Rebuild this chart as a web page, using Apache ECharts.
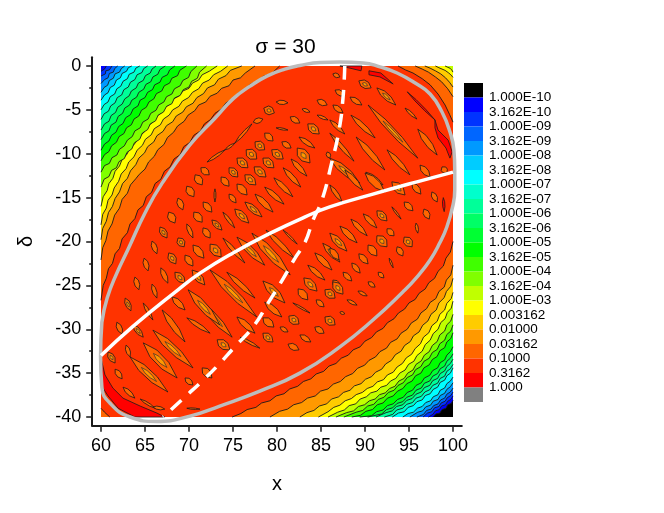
<!DOCTYPE html>
<html><head><meta charset="utf-8">
<style>html,body{margin:0;padding:0;background:#fff}#c{width:664px;height:513px}</style>
<script src="https://cdn.jsdelivr.net/npm/echarts@6/dist/echarts.min.js"></script>
</head><body><div id="c"></div>
<script>
// ---- colour scale
const barColors = ['#000000','#0000ff','#0033ff','#0066ff','#0099ff','#00ccff','#00ffff','#00ffcc','#00ff99','#00ff66','#00ff33','#00ff00','#40ff00','#80ff00','#c0ff00','#ffff00','#ffcc00','#ff9900','#ff6600','#ff3300','#ff0000','#808080'];
const barLabels = ['1.000E-10','3.162E-10','1.000E-09','3.162E-09','1.000E-08','3.162E-08','1.000E-07','3.162E-07','1.000E-06','3.162E-06','1.000E-05','3.162E-05','1.000E-04','3.162E-04','1.000E-03','0.003162','0.01000','0.03162','0.1000','0.3162','1.000'];
const xTicks = [60,65,70,75,80,85,90,95,100];
const xMinor = [62.5,67.5,72.5,77.5,82.5,87.5,92.5,97.5];
const yTicks = [0,-5,-10,-15,-20,-25,-30,-35,-40];
const yMinor = [-2.5,-7.5,-12.5,-17.5,-22.5,-27.5,-32.5,-37.5];

// ---- contour lines, read as (distance from the corner along x, distance along delta)
// upper-left corner, index = colour band enclosed
const tl1=[0,.6,.4,.35,.6,0];
const tl2=[0,1.15,.5,.9,.55,.55,.95,.45,1.25,0];
const tl3=[0,2,.4,1.55,.8,1.35,.95,.85,1.4,.7,1.55,.3,1.9,0];
const tl4=[0,3,.35,2.45,.75,2.2,.95,1.65,1.4,1.4,1.6,.9,2.1,.7,2.3,.3,2.7,0];
const tl5=[0,3.9,.4,3.3,.8,3.05,1.05,2.45,1.5,2.2,1.75,1.6,2.2,1.35,2.4,.85,2.9,.6,3.1,.2,3.5,0];
const tl6=[0,5,.35,4.4,.8,4.1,1.05,3.5,1.55,3.2,1.8,2.6,2.25,2.3,2.5,1.75,3,1.45,3.2,.95,3.75,.7,3.95,.25,4.4,0];
const tl7=[0,6.1,.35,5.45,.85,5.15,1.1,4.55,1.6,4.2,1.85,3.6,2.35,3.3,2.6,2.7,3.1,2.4,3.35,1.85,3.85,1.55,4.1,1,4.65,.75,4.85,.3,5.3,0];
const tl8=[0,7.3,.4,6.6,.9,6.3,1.15,5.65,1.65,5.3,1.9,4.7,2.4,4.35,2.7,3.75,3.2,3.4,3.45,2.85,4,2.5,4.25,1.95,4.8,1.65,5.05,1.1,5.6,.8,5.8,.35,6.25,0];
const tl9=[0,8.4,.4,7.7,.9,7.4,1.15,6.75,1.7,6.4,1.95,5.75,2.45,5.4,2.7,4.8,3.25,4.45,3.5,3.9,4.05,3.55,4.3,3,4.85,2.65,5.1,2.1,5.65,1.8,5.9,1.25,6.45,.95,6.7,.4,7.3,0];
const tl10=[0,9.6,.4,8.9,.9,8.55,1.2,7.9,1.7,7.55,2,6.9,2.5,6.55,2.8,5.9,3.35,5.55,3.65,4.9,4.2,4.55,4.45,3.9,5,3.6,5.3,3,5.85,2.7,6.1,2.15,6.7,1.85,6.95,1.3,7.55,1,7.8,.45,8.4,0];
const tl11=[0,10.8,.4,10.1,.9,9.75,1.2,9.1,1.75,8.7,2.05,8.05,2.6,7.7,2.9,7.05,3.45,6.7,3.75,6.05,4.3,5.7,4.6,5.05,5.15,4.7,5.45,4.1,6,3.75,6.3,3.15,6.9,2.85,7.2,2.25,7.8,1.95,8.05,1.4,8.7,1.1,8.95,.5,9.7,0];
const tl12=[0,12.1,.4,11.35,.95,11.1,1.25,10.45,1.8,10.15,2.1,9.5,2.65,9.1,3,8.45,3.55,8.05,3.85,7.4,4.45,7.05,4.75,6.4,5.35,6.05,5.65,5.4,6.25,5.05,6.55,4.45,7.15,4.1,7.45,3.5,8.05,3.2,8.35,2.6,9,2.25,9.3,1.65,9.95,1.3,10.2,.65,10.9,0];
const tl13=[0,13.8,.35,12.9,.9,12.6,1.2,11.9,1.75,11.6,2.05,10.9,2.65,10.55,2.95,9.85,3.5,9.45,3.8,8.75,4.4,8.35,4.7,7.65,5.3,7.25,5.6,6.6,6.2,6.25,6.5,5.6,7.1,5.25,7.45,4.6,8.05,4.3,8.35,3.65,9,3.35,9.35,2.7,10,2.4,10.3,1.75,10.95,1.4,11.2,.7,12,0];
const tl14=[0,16,.25,14.9,.7,14.2,.9,13.4,1.35,12.8,1.6,12,2.1,11.4,2.4,10.65,2.95,10.05,3.3,9.35,3.9,8.8,4.2,8.1,4.85,7.6,5.2,6.9,5.85,6.45,6.2,5.8,6.85,5.35,7.2,4.75,7.85,4.35,8.25,3.75,8.9,3.4,9.3,2.85,10,2.55,10.4,1.95,11.1,1.6,11.5,1,12.3,.6,13.2,0];
const tl15=[0,18.1,.2,16.9,.6,16.2,.8,15.3,1.25,14.7,1.5,13.9,2,13.15,2.3,12.3,2.85,11.7,3.15,10.95,3.75,10.35,4.1,9.6,4.7,9.05,5.05,8.35,5.7,7.85,6.05,7.15,6.75,6.7,7.1,6.05,7.75,5.6,8.15,5,8.85,4.6,9.25,4,9.95,3.6,10.4,3,11.1,2.6,11.55,1.95,12.3,1.6,12.8,1,13.6,.6,14.4,0];
const tl16=[0,19.8,.2,18.5,.6,17.7,.85,16.7,1.3,16,1.6,15.1,2.1,14.35,2.45,13.4,3,12.8,3.35,11.95,3.95,11.25,4.3,10.5,4.95,9.9,5.3,9.2,6,8.65,6.35,7.95,7.05,7.45,7.45,6.8,8.15,6.35,8.55,5.7,9.3,5.25,9.7,4.65,10.45,4.25,10.9,3.6,11.65,3.15,12.1,2.5,12.9,2.15,13.35,1.5,14.2,1.1,14.7,.5,16,0];
const tl17=[0,22.1,.2,20.7,.55,19.9,.8,18.8,1.25,18,1.55,17,2.1,16.2,2.4,15.2,3,14.5,3.35,13.55,3.95,12.85,4.35,12.35,5,11.75,5.4,10.95,6.05,10.3,6.45,9.55,7.15,8.95,7.55,8.15,8.25,7.55,8.7,6.85,9.45,6.3,9.9,5.6,10.65,5.1,11.1,4.45,11.9,4.1,12.4,3.45,13.2,3.1,13.7,2.55,14.55,2.25,15,1.6,15.85,1.35,16.4,.8,17.5,0];
const tl18=[0,26.7,.25,25,.6,24.2,.85,23.1,1.3,22.5,1.6,21.4,2.1,20.8,2.4,19.7,3,19,3.3,18,3.85,17.4,4.2,16.4,4.8,15.9,5.15,14.9,5.75,14.4,6.15,13.4,6.8,12.9,7.2,12,7.85,11.5,8.3,10.6,9,10.1,9.4,9.2,10.1,8.7,10.55,7.9,11.3,7.4,11.75,6.6,12.45,6.1,12.95,5.4,13.7,4.9,14.2,4.2,15,3.75,15.55,3.1,16.4,2.7,17,2.05,17.85,1.7,18.5,1.15,19.4,.85,20.3,0];
// lower-right corner
const br0=[0,1.9,.2,1.55,.6,1.4,.8,1,1.25,.85,1.5,.45,1.95,.35,2.3,0];
const br1=[0,2.4,.25,2,.6,1.8,.85,1.4,1.3,1.25,1.55,.85,2,.7,2.3,.3,2.8,0];
const br2=[0,2.85,.25,2.45,.65,2.2,.9,1.8,1.35,1.6,1.6,1.2,2.1,1.05,2.4,.6,2.9,.45,3.4,0];
const br3=[0,3.3,.3,2.85,.7,2.6,.95,2.15,1.4,1.95,1.7,1.5,2.2,1.3,2.5,.9,3,.75,3.35,.3,4.1,0];
const br4=[0,3.9,.3,3.45,.7,3.15,.95,2.7,1.45,2.45,1.7,2,2.25,1.8,2.55,1.35,3.1,1.15,3.45,.7,4,.55,4.9,0];
const br5=[0,4.55,.3,4.1,.7,3.8,.95,3.3,1.45,3.05,1.7,2.55,2.25,2.3,2.55,1.85,3.1,1.65,3.5,1.2,4.05,1,4.5,.55,5.1,.4,5.7,0];
const br6=[0,5.6,.3,5,.7,4.7,.95,4.2,1.45,3.95,1.75,3.4,2.25,3.15,2.6,2.65,3.15,2.45,3.5,1.95,4.1,1.75,4.5,1.3,5.1,1.1,5.55,.6,6.2,.45,6.9,0];
const br7=[0,6,.3,5.5,.7,5.2,.95,4.65,1.45,4.4,1.75,3.85,2.3,3.6,2.65,3.1,3.2,2.85,3.6,2.35,4.2,2.15,4.6,1.65,5.25,1.45,5.7,1,6.4,.8,6.85,.3,7.8,0];
const br8=[0,6.6,.3,6.1,.7,5.75,.95,5.25,1.45,4.95,1.75,4.4,2.3,4.15,2.65,3.6,3.25,3.35,3.6,2.85,4.2,2.6,4.65,2.1,5.25,1.9,5.7,1.4,6.4,1.2,6.9,.7,7.6,.5,8.75,0];
const br9=[0,7.2,.3,6.7,.7,6.35,.95,5.8,1.45,5.5,1.75,4.95,2.3,4.65,2.65,4.1,3.25,3.85,3.6,3.3,4.2,3.05,4.6,2.5,5.25,2.25,5.7,1.75,6.35,1.55,6.85,1.05,7.55,.85,8.1,.35,9.7,0];
const br10=[0,8,.3,7.45,.7,7.05,.95,6.5,1.45,6.2,1.75,5.6,2.3,5.3,2.65,4.75,3.25,4.45,3.6,3.9,4.2,3.6,4.6,3.05,5.2,2.8,5.65,2.25,6.3,2,6.8,1.5,7.45,1.3,7.95,.8,8.7,.6,9.25,.15,10.6,0];
const br11=[0,9.6,.25,8.95,.7,8.55,.95,7.9,1.5,7.55,1.8,6.9,2.35,6.55,2.7,5.95,3.3,5.6,3.65,5,4.25,4.7,4.65,4.1,5.25,3.8,5.7,3.25,6.3,2.95,6.8,2.4,7.45,2.15,7.95,1.6,8.6,1.4,9.15,.85,9.9,.65,10.5,.2,11.5,0];
const br12=[0,10.5,.25,9.8,.7,9.4,.95,8.75,1.5,8.35,1.8,7.7,2.35,7.35,2.7,6.7,3.3,6.35,3.65,5.75,4.25,5.4,4.6,4.8,5.2,4.5,5.65,3.9,6.25,3.6,6.7,3.05,7.35,2.8,7.85,2.25,8.5,2,9,1.45,9.7,1.25,10.25,.75,11,.55,12.4,0];
const br13=[0,11.7,.25,10.95,.7,10.5,.95,9.8,1.5,9.35,1.8,8.6,2.35,8.15,2.7,7.45,3.25,7.05,3.6,6.4,4.2,6,4.55,5.35,5.15,5,5.55,4.4,6.15,4.1,6.6,3.5,7.2,3.25,7.7,2.75,8.35,2.55,8.85,2.05,9.5,1.85,10.05,1.4,10.75,1.2,11.3,.7,12.1,.5,13.3,0];
const br14=[0,13.2,.2,12.4,.65,11.9,.9,11.2,1.4,10.75,1.7,10,2.25,9.5,2.6,8.75,3.15,8.25,3.5,7.5,4.1,7,4.45,6.35,5.05,6,5.45,5.35,6.05,5,6.5,4.4,7.1,4.1,7.55,3.6,8.2,3.4,8.65,2.95,9.35,2.75,9.85,2.3,10.55,2.05,11.05,1.5,11.8,1.3,12.35,.8,13.1,.55,14.2,0];
const br15=[0,14.2,.2,13.5,.7,12.95,.95,12.2,1.5,11.7,1.8,10.9,2.4,10.4,2.75,9.6,3.35,9.1,3.7,8.35,4.3,7.8,4.7,7.15,5.3,6.75,5.75,6.1,6.35,5.7,6.8,5.1,7.45,4.8,7.9,4.25,8.6,4,9.1,3.5,9.75,3.25,10.3,2.8,11,2.55,11.55,2.1,12.25,1.85,12.85,1.35,13.55,1.1,14.2,.6,15.3,0];
const br16=[0,15.8,.25,14.9,.75,14.3,1,13.6,1.6,13,1.9,12.2,2.5,11.7,2.85,10.95,3.45,10.45,3.85,9.7,4.5,9.25,4.85,8.6,5.5,8.15,5.9,7.5,6.55,7.1,7,6.45,7.65,6.05,8.1,5.45,8.8,5.1,9.25,4.6,9.95,4.3,10.45,3.8,11.2,3.55,11.7,3.05,12.45,2.8,13,2.3,13.8,2.05,14.35,1.5,15.2,1.25,15.8,.75,16.6,.5,17.4,0];
const br17=[0,17.3,.25,16.2,.75,15.6,1,14.8,1.6,14.3,1.95,13.5,2.6,13.05,3,12.35,3.65,11.85,4.05,11.15,4.75,10.7,5.2,10,5.9,9.55,6.35,8.9,7.1,8.5,7.55,7.85,8.3,7.45,8.8,6.85,9.55,6.45,10.05,5.9,10.85,5.55,11.4,4.95,12.2,4.6,12.8,4.05,13.6,3.75,14.2,3.2,15.05,2.95,15.65,2.4,16.55,2.15,17.2,1.65,18.1,1.4,18.8,.9,19.7,.65,20.8,0];
const br18=[0,20,.3,18.8,.8,18.1,1.1,17.2,1.7,16.6,2.1,15.8,2.75,15.3,3.15,14.6,3.85,14.1,4.3,13.4,5,13,5.5,12.3,6.2,11.85,6.7,11.2,7.45,10.75,7.95,10.1,8.7,9.7,9.25,9.05,10,8.65,10.55,8,11.35,7.65,11.9,7.05,12.7,6.7,13.3,6.1,14.1,5.8,14.7,5.2,15.55,4.9,16.15,4.35,17,4.05,17.65,3.5,18.55,3.2,19.2,2.65,20.1,2.4,20.8,1.85,21.75,1.6,22.4,1.1,23.4,.85,24.1,.4,25.1,0];
// upper-right corner
const tr18=[6.25,0,5.4,.45,4.55,.8,3.5,1.45,2.6,2.15,1.7,3.2,.9,4.45,.4,5.5,0,6.4];
const tr17=[4.3,0,3.5,.35,2.8,.7,2,1.25,1.3,1.8,.6,2.6,0,3.5];
const tr16=[3.2,0,2.6,.25,2,.55,1.4,.9,.85,1.35,.4,1.85,0,2.4];
const tr15=[2,0,1.6,.2,1.25,.35,.9,.5,.55,.75,.25,1,0,1.3];
const tr14=[.9,0,.6,.15,.35,.25,.15,.45,0,.7];
// lower-left corner
const bl18=[0,1,.4,.55,1,0];

// ---- closed red patches and thin islands (x, delta)
const redLowerLeft=[60,-33.3,60.45,-35.2,61.35,-36.7,62.5,-37.85,64.45,-38.75,66.35,-39.55,67.25,-40,63.85,-40,61.95,-39,60.8,-37.6,60,-36.35];
const redRight=[97.95,-6.15,98.3,-7.3,99.45,-8.45,99.9,-9.8,99.65,-10.5,99.2,-9.35,98.3,-8.2,97.95,-7.05];
const redTop=[87.15,0,89.65,0,89.55,-.55,88.3,-.25];
const redTop2=[90.45,-.55,91.8,-.8,93.2,-2.05,91.7,-1.25,90.45,-1];
const redStreaks=[[94.8,-2.95,97.95,-6.15,.2],[98.9,-15,99,-16.6,.25]];

// ---- islands of the lower band inside the plateau: x1, d1, x2, d2, width, has inner level
const islands=[
[78.5,-4.8,79.7,-5.35,.9,1],[77.3,-6.4,78.4,-6.05,.55],[81.5,-5.8,82.6,-6.5,.6],[82.85,-4.9,83.75,-5.25,.35],[84.55,-5.6,85.8,-6.15,.3],[83.5,-6.6,84.8,-7.75,.9,1],[79.9,-4.1,81.25,-4.2,.45],[79.9,-7.05,81.25,-7.3,.2],[78.6,-7.65,79.55,-8.55,.7],[77.5,-8.65,78.6,-9.55,.9,1],[76.5,-9.55,77.7,-10.6,1,1],[75.45,-10.5,76.7,-11.6,.9,1],[74.55,-11.6,75.55,-12.65,.8,1],[73.65,-12.65,74.55,-13.7,.7],
[80.55,-8.65,81.6,-9.35,.6],[79.4,-9.55,80.7,-10.6,.9,1],[78.4,-10.5,79.65,-11.6,.9,1],[77.4,-11.5,78.75,-12.65,.9,1],[76.35,-12.4,77.6,-13.55,.9,1],[75.45,-13.45,76.6,-14.7,.8],[74.55,-14.6,75.35,-15.6,.55],[82.3,-9.35,83.75,-11.05,1.1,1],[81.6,-10.6,83.4,-12.55,.55],[80.7,-11.6,82.7,-13.8,.55],[79.65,-12.75,81.8,-14.9,.55],[78.6,-13.8,80.8,-15.75,.55],[77.5,-14.6,79.55,-16.65,.65],[76.35,-15.5,78.3,-17.2,.7,1],[75.2,-16.3,76.8,-17.9,.8,1],[73.85,-16.65,75.2,-18.45,.35],[71.6,-15.5,72.6,-16.65,.7],[72.6,-17.55,73.75,-18.7,.6,1],[72.95,-14,72.95,-15.5,.2],[71.35,-11.6,72.3,-12.4,.7],[72.05,-10.95,74.1,-9.55,.3],[74.1,-9.55,75.2,-8.8,.25],[75.2,-8.8,77.15,-6.6,.3],[82.5,-8.1,84.3,-9.35,.5],[84.55,-3.9,85.7,-4.45,.6],[85.7,-9.8,86,-10.5,.45],
[71.6,-18.45,72.4,-19.6,.7],[72.4,-20.3,73.65,-21.75,1,1],[73.85,-19.6,76.35,-22.45,.45],[75.45,-19.5,78.6,-22.7,.8,1],[77.15,-19.05,81.5,-23.8,1,1],[78.75,-18.7,81.95,-21.9,.55],[80.7,-18.7,82.3,-20.3,.2],[72.4,-23.25,77.7,-28.6,.9,1],[74.3,-23.5,77.5,-26.45,.55],[78.4,-24.5,80.9,-27,.9,1],[78.6,-26.9,80.55,-28.6,.65],[75.45,-28.6,77.5,-30.45,.65],[71.25,-26.9,74.9,-30.9,.8,1],[73.2,-31.2,74.65,-32.35,.9,1],[78.4,-28.7,79.65,-29.75,.8],[78.4,-30.45,79.55,-31.45,.8,1],[80.35,-29.75,81.25,-30.3,.45],[81.35,-28.5,82.5,-29.4,.9,1],[81.8,-27,83.75,-28.15,.2],[83.05,-24.15,84.55,-25.65,.9,1],[82.4,-25.4,83.5,-26.65,.8],[83.5,-22.7,85.45,-24.4,.55],[84.3,-21.3,86.25,-23.25,.65],[85.2,-20.2,87.15,-22.35,.65,1],[85.45,-25.5,86.6,-26.45,.9,1],[84.45,-26.65,85.35,-27.45,.55],[85.45,-28.6,86.6,-29.5,.9,1],[84.3,-29.75,85.35,-30.45,.65],[82.6,-30.65,83.85,-31.45,.55],[81.25,-31.7,82.5,-32.35,.65],[75.8,-30.9,78.05,-32.15,.3],[86.35,-24.4,87.15,-25.3,.65],
[62.75,-26.45,63.4,-27.9,.55,1],[64.8,-27,65.9,-28.95,.35],[66.95,-27.8,69.55,-31.45,.65],[68.05,-26.3,69.55,-27.8,.65],[69.9,-25.5,73.5,-29.5,.9,1],[69.75,-28.7,72.4,-30.45,.45],[65.9,-30.1,70.45,-34.4,.9,1],[64.8,-31.55,68.65,-35.55,1.1,1],[63.3,-33.15,67.6,-37.15,.9,1],[69.55,-35.55,70.45,-36.35,.55],[71.5,-34.4,72.6,-35.55,.8],[61.8,-29.2,62.4,-30.55,.55],[63.65,-29.5,64.8,-30.9,.55,1],[62.85,-31.8,63.3,-33.15,.45],[60.8,-32.6,61.6,-33.85,.65,1],[61.6,-34.55,62.4,-35.65,.55],[62.5,-36.6,63.85,-37.85,.45],[64.45,-37.95,66.15,-39,.25],[65.9,-38.85,67.25,-39.1,.35],[69.75,-39,71.25,-39.1,.15],
[70.7,-12.4,71.5,-13.55,.8],[69.75,-13.7,70.55,-14.9,.8],[68.75,-15.05,69.3,-16.4,.65],[67.7,-16.65,68.4,-17.9,.8],[66.7,-18.35,67.5,-19.6,.7,1],[65.8,-19.95,66.35,-21.4,.55],[64.9,-21.9,65.35,-23.35,.55],[63.85,-24.05,64.3,-25.5,.55],[65.8,-24.85,66.35,-26.45,.45],[66.8,-23,67.6,-24.75,.55],[67.7,-21.3,68.5,-22.55,.8,1],[68.75,-19.6,69.45,-20.6,.8,1],[69.75,-18,70.45,-19.6,.45],[70.55,-16.65,71.5,-17.8,.8],[69.55,-21.55,70.45,-22.8,.7],[68.4,-23.5,69.55,-24.75,.8,1],[70.45,-20.4,71.7,-21.9,.8],[70.35,-23.25,71.8,-24.95,.8,1],
[89.3,-1.7,90.7,-2.5,.8,1],[91.35,-2.5,93.5,-4.45,.65,1],[86.6,-2.75,87.7,-3.4,.55],[88.3,-3.55,89.65,-4.45,.55],[86.35,-4.45,87.5,-5.35,.55],[88.4,-5.6,91.15,-8.2,.55],[90.35,-4.45,96,-10.5,.65,1],[94.55,-4.8,95.9,-6.05,.3],[96,-7.2,98.2,-10.15,.65],[86,-6.15,87.7,-7.75,.45],[89,-8.1,92.25,-11.85,.65],[92.5,-9.55,95.1,-12.4,.55],[86,-7.65,88.75,-10.85,.45],[86,-10.5,89.4,-13.35,.8,1],[96.25,-11.3,97.4,-12.65,.65],[98.75,-11.5,99.3,-12.2,.65],[90.1,-12.1,92.05,-13.55,.45],[86.35,-.9,87.15,-1.25,.45],
[87.7,-11.85,89.75,-14.15,.55],[90,-12.2,92.25,-14.35,.8],[93.05,-13.2,94.55,-14.7,.9,1],[95.35,-13.35,96.35,-14.6,.65],[97.6,-14.35,98.2,-15.5,.55],[86,-13.55,87.4,-15.5,.45],[91.35,-16.5,92.5,-17.65,.8,1],[89.8,-16.85,91.35,-18.45,.55],[88.4,-17.45,90.25,-19.35,.55],[93.05,-16.05,94.1,-17.45,.2],[94.45,-15.5,95.45,-16.5,.65],[96.7,-16.3,97.3,-17.45,.65],[92.5,-18.55,93.3,-19.35,.65],[95.8,-17.9,96,-19.05,.3],[87.15,-18.25,89.1,-20.15,.65],[86,-19.05,87.95,-21.1,.8,1],[91.35,-19.35,92.5,-20.6,1,1],[94.45,-19.5,95.35,-20.6,.9,1],[90.35,-20.4,91.35,-21.65,.8],[93.65,-20.6,94.3,-21.65,.65],[86,-20.75,87.05,-22.1,.65],[89.3,-21.4,90.35,-22.55,.65],[92.75,-21.9,93.2,-23,.2],[88.5,-22.45,89.45,-23.6,.55],[91.5,-23.5,92.15,-24.15,.45],[87.5,-23.5,88.5,-24.5,.55],[90.35,-24.6,91.15,-25.2,.45],[86.35,-24.6,87.5,-26,.9,1],[89.2,-25.65,90.25,-26.2,.35],[87.95,-26.65,89.1,-27.25,.35],[87.15,-28.05,87.7,-28.25,.3]
];

// ---- overlay curves (x, delta)
const solidX=[60,63.6,68.75,71.25,75,79.55,83.2,86,90.9,95.9,100];
const solidD=[-33,-29.7,-25.5,-23.6,-21.3,-18.9,-17.2,-16.05,-14.6,-13.2,-12.1];
const dashX=[87.7,87.5,87.05,86.15,85.1,84.1,83.2,82.05,80.6,79,77.3,75.2,73.3,71.6,69.55,67.05];
const dashD=[0,-3.65,-7.3,-11.3,-15.3,-17.55,-20.05,-21.9,-24.4,-27,-29.7,-32,-34.1,-35.8,-37.7,-40];
const ringX=[60.1,60.7,61.8,63.05,65,66.95,70.1,72.95,75,76.95,78.85,80.9,82.6,84.9,87.15,89.8,91.7,93.65,95.7,97.4,98.75,99.65,100.1,100.2,100.2,100,99.3,98.5,97.4,95.9,94.3,90.9,87.15,82.6,78.05,73.5,70.1,66.35,63.3,61,60.1,59.95,60.1];
const ringD=[-29.2,-26.45,-23.6,-20.95,-16.75,-13.35,-9,-5.95,-3.75,-2.3,-1.15,-.35,.05,.4,.45,.35,-.1,-.8,-1.95,-3.2,-5.25,-7.5,-9.55,-11.85,-14.15,-15.85,-18.35,-20.15,-22.1,-24.05,-25.75,-28.95,-32,-35,-37.05,-38.75,-39.9,-40.5,-40,-38.4,-36.6,-33.15,-29.2];

// ---- build layers
const FONT='"Liberation Sans",Arial,sans-serif';
const ink='#1a1a1a';
function place(flat,cx,sx,cy,sy){const o=[];for(let i=0;i<flat.length;i+=2)o.push([cx+sx*flat[i],cy+sy*flat[i+1]]);return o;}
function pairs(flat){return place(flat,0,1,0,1);}
const layers=[];
[tl18,tl17,tl16,tl15,tl14,tl13,tl12,tl11,tl10,tl9,tl8,tl7,tl6,tl5,tl4,tl3,tl2,tl1].forEach((c,i)=>layers.push({band:18-i,line:place(c,60,1,0,-1),corner:[60,0]}));
[br18,br17,br16,br15,br14,br13,br12,br11,br10,br9,br8,br7,br6,br5,br4,br3,br2,br1,br0].forEach((c,i)=>layers.push({band:18-i,line:place(c,100,-1,-40,1),corner:[100,-40]}));
[tr18,tr17,tr16,tr15,tr14].forEach((c,i)=>layers.push({band:18-i,line:place(c,100,-1,0,-1),corner:[100,0]}));
layers.push({band:18,line:place(bl18,60,1,-40,1),corner:[60,-40]});

function toPx(api,list){return list.map(p=>api.coord(p));}
function renderLayer(params,api){
  const l=layers[params.dataIndex];
  const line=toPx(api,l.line);
  return {type:'group',children:[
    {type:'polygon',shape:{points:line.concat([api.coord(l.corner)])},style:{fill:barColors[l.band],stroke:null}},
    {type:'polyline',shape:{points:line},style:{fill:null,stroke:ink,lineWidth:.9}}
  ]};
}
function lens(d,scale){
  const cx=(d[0]+d[2])/2,cy=(d[1]+d[3])/2;
  let x1=cx+(d[0]-cx)*scale,y1=cy+(d[1]-cy)*scale,x2=cx+(d[2]-cx)*scale,y2=cy+(d[3]-cy)*scale;
  const dx=x2-x1,dy=y2-y1,L=Math.hypot(dx,dy)||1,w=d[4]*scale/2,nx=-dy/L*w,ny=dx/L*w;
  return [[x1,y1],[x1+dx*.3+nx,y1+dy*.3+ny],[x1+dx*.65+nx,y1+dy*.65+ny],[x2,y2],[x1+dx*.65-nx,y1+dy*.65-ny],[x1+dx*.3-nx,y1+dy*.3-ny]];
}
function renderIsland(params,api){
  const d=islands[params.dataIndex];
  const kids=[{type:'polygon',shape:{points:toPx(api,lens(d,1))},style:{fill:barColors[18],stroke:ink,lineWidth:.8}}];
  if(d[5])kids.push({type:'polygon',shape:{points:toPx(api,lens(d,.4))},style:{fill:barColors[17],stroke:'#333',lineWidth:.7}});
  return {type:'group',children:kids};
}
const patches=[redLowerLeft,redRight,redTop,redTop2].map(pairs);
function renderPatch(params,api){
  return {type:'polygon',shape:{points:toPx(api,patches[params.dataIndex])},style:{fill:barColors[20],stroke:ink,lineWidth:.8}};
}
function renderStreak(params,api){
  return {type:'polygon',shape:{points:toPx(api,lens(redStreaks[params.dataIndex],1))},style:{fill:barColors[20],stroke:ink,lineWidth:.8}};
}
function renderPlateau(params,api){
  const a=api.coord([60,0]),b=api.coord([100,-40]);
  return {type:'rect',shape:{x:a[0],y:a[1],width:b[0]-a[0],height:b[1]-a[1]},style:{fill:barColors[19]}};
}
function renderBar(params,api){
  const i=params.dataIndex,a=api.coord([0,i]),b=api.coord([1,i+1]);
  return {type:'rect',shape:{x:a[0],y:a[1],width:b[0]-a[0],height:b[1]-a[1]},style:{fill:barColors[i]}};
}
function cust(render,n,z){return {type:'custom',renderItem:render,data:Array.from({length:n},(_,i)=>[60,-20,i]),xAxisIndex:0,yAxisIndex:0,clip:false,silent:true,z:z,animation:false};}
function zip(a,b){return a.map((v,i)=>[v,b[i]]);}

const spine={show:true,onZero:false,lineStyle:{color:ink,width:2}};
const chart=echarts.init(document.getElementById('c'),null,{renderer:'canvas'});
chart.setOption({
  animation:false,
  backgroundColor:'#fff',
  title:{text:'σ = 30',left:280.5,top:32,textAlign:'center',textStyle:{fontFamily:FONT,fontSize:21,fontWeight:'normal',color:'#000'}},
  grid:[{left:92.2,top:57.2,width:369.6,height:368.6},{left:464,top:83,width:19,height:319}],
  xAxis:[
    {type:'value',gridIndex:0,min:59,max:101,position:'bottom',splitLine:{show:false},axisLine:spine,
     axisTick:{show:true,length:6,customValues:xTicks,lineStyle:{color:ink,width:1.5}},
     axisLabel:{show:true,customValues:xTicks,margin:11,fontFamily:FONT,fontSize:18,color:'#000',hideOverlap:false},
     name:'x',nameLocation:'middle',nameGap:49,nameTextStyle:{fontFamily:FONT,fontSize:20,color:'#000'}},
    {type:'value',gridIndex:0,min:59,max:101,position:'bottom',splitLine:{show:false},axisLine:{show:false},
     axisTick:{show:true,length:3,customValues:xMinor,lineStyle:{color:ink,width:1.5}},axisLabel:{show:false}},
    {type:'value',gridIndex:1,min:0,max:1,show:false}
  ],
  yAxis:[
    {type:'value',gridIndex:0,min:-41,max:1,position:'left',splitLine:{show:false},axisLine:spine,
     axisTick:{show:true,length:6,customValues:yTicks,lineStyle:{color:ink,width:1.5}},
     axisLabel:{show:true,customValues:yTicks,margin:11,fontFamily:FONT,fontSize:18,color:'#000',hideOverlap:false},
     name:'δ',nameLocation:'middle',nameGap:56,nameRotate:90,nameTextStyle:{fontFamily:FONT,fontSize:20,color:'#000'}},
    {type:'value',gridIndex:0,min:-41,max:1,position:'left',splitLine:{show:false},axisLine:{show:false},
     axisTick:{show:true,length:3,customValues:yMinor,lineStyle:{color:ink,width:1.5}},axisLabel:{show:false}},
    {type:'value',gridIndex:1,min:0,max:22,inverse:true,position:'right',splitLine:{show:false},axisLine:{show:false},axisTick:{show:false},
     axisLabel:{show:true,customValues:barLabels.map((_,i)=>i+1),margin:6,fontFamily:FONT,fontSize:13.5,color:'#000',hideOverlap:false,formatter:v=>barLabels[Math.round(v)-1]}}
  ],
  series:[
    cust(renderPlateau,1,1),
    cust(renderLayer,layers.length,2),
    cust(renderPatch,patches.length,3),
    cust(renderStreak,redStreaks.length,3),
    cust(renderIsland,islands.length,4),
    {type:'line',data:zip(ringX,ringD),xAxisIndex:0,yAxisIndex:0,showSymbol:false,smooth:.5,clip:false,silent:true,z:6,lineStyle:{color:'#bdbdbd',width:3.5}},
    {type:'line',data:zip(solidX,solidD),xAxisIndex:0,yAxisIndex:0,showSymbol:false,smooth:.5,clip:false,silent:true,z:7,lineStyle:{color:'#fff',width:3.5}},
    {type:'line',data:zip(dashX,dashD),xAxisIndex:0,yAxisIndex:0,showSymbol:false,smooth:.5,clip:false,silent:true,z:7,lineStyle:{color:'#fff',width:3.5,type:[14,10]}},
    {type:'custom',renderItem:renderBar,data:barColors.map((_,i)=>[0,i]),xAxisIndex:2,yAxisIndex:2,silent:true,clip:false,z:2}
  ]
});
</script></body></html>
